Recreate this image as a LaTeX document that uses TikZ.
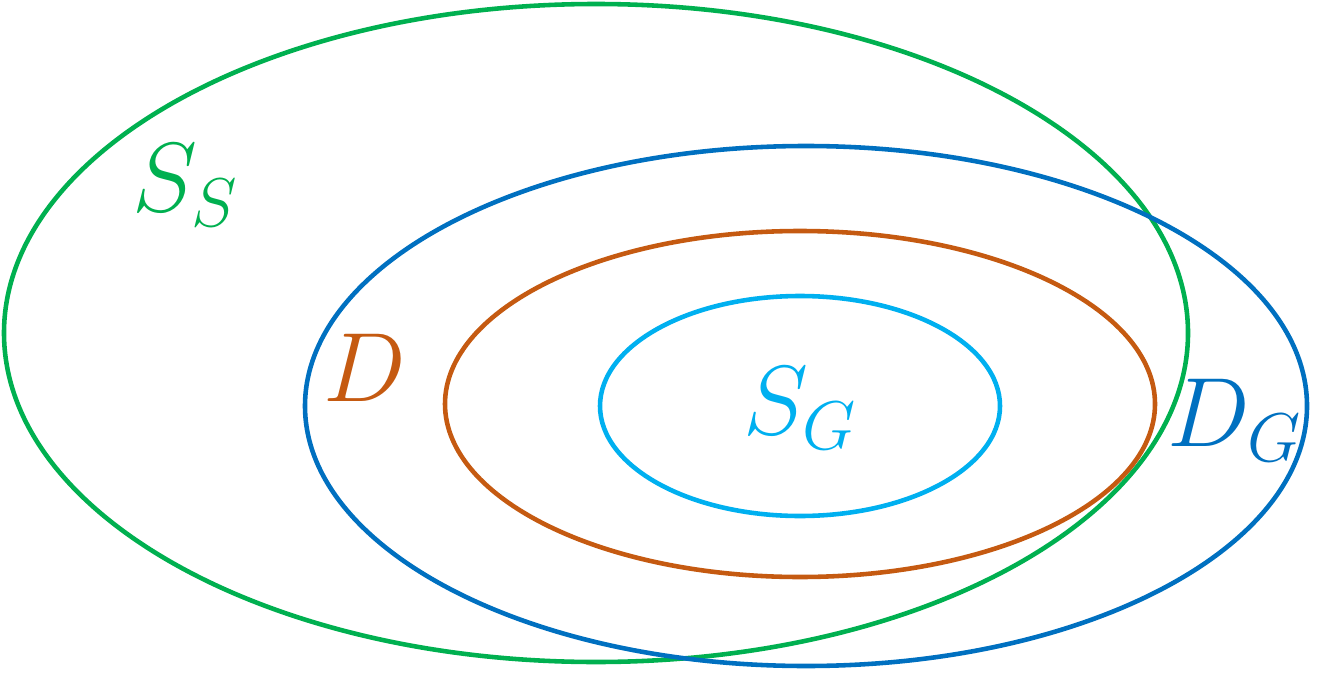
\RequirePackage{fix-cm}
\documentclass[tikz,border=0pt]{standalone}
\usepackage{amsmath, amssymb}
\usepackage{tikz}
\usetikzlibrary{positioning}

\definecolor{setgreen}{RGB}{0,176,80}
\definecolor{setblue}{RGB}{0,112,192}
\definecolor{setorange}{RGB}{197,90,17}
\definecolor{setcyan}{RGB}{0,176,240}

\begin{document}
\begin{tikzpicture}[
        % Set styles
        setline/.style={
            draw=#1,
            line width=2.6pt
        },
        setlabel/.style={
            text=#1,
            inner sep=0pt,
            font=\fontsize{56}{60}\selectfont
        }
    ]
    \useasboundingbox (0,0) rectangle (26.36,13.44);

    % Sets
    \draw[setline=setgreen] (11.92,6.78) ellipse (11.84 and 6.58);
    \draw[setline=setblue] (16.12,5.32) ellipse (10.02 and 5.2);
    \draw[setline=setorange] (16.0,5.36) ellipse (7.1 and 3.46);
    \draw[setline=setcyan] (16.0,5.32) ellipse (4.0 and 2.2);

    % Labels
    \node[setlabel=setgreen] (ss) at (3.7,9.74) {$S_S$};
    \node[setlabel=setorange] (d) at (7.3,6.08) {$D$};
    \node[setlabel=setcyan] (sg) at (16.0,5.28) {$S_G$};
    \node[setlabel=setblue] (dg) at (24.7,5.04) {$D_G$};

\end{tikzpicture}
\end{document}
